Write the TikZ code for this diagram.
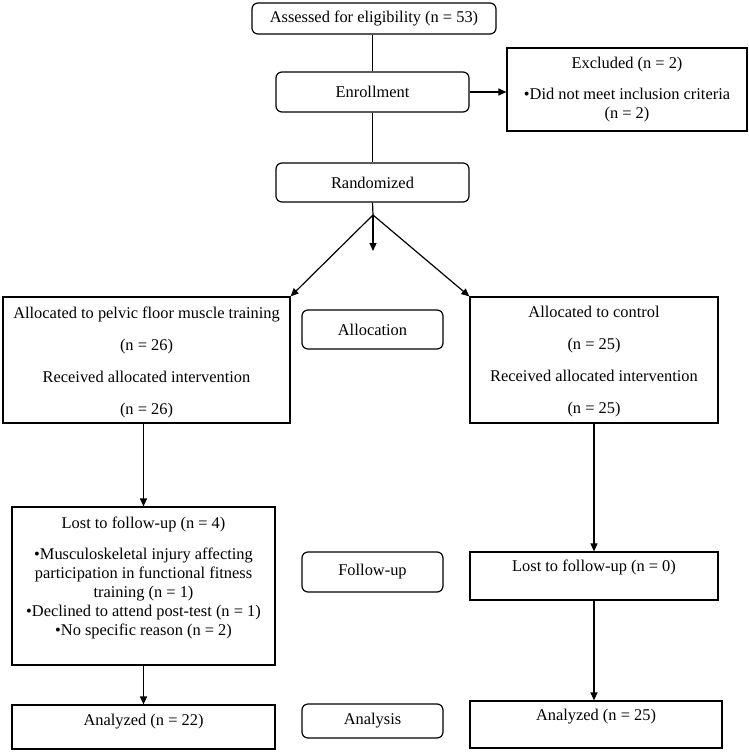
\documentclass[tikz,border=0pt]{standalone}
\usepackage{fontspec}
\setmainfont{Liberation Serif}
\usetikzlibrary{arrows.meta,calc}
\begin{document}
\begin{tikzpicture}[x=1pt,y=-1pt,
  rbox/.style={draw, rounded corners=6pt, line width=1.2pt, inner sep=0pt},
  sbox/.style={draw, line width=1.2pt, inner sep=0pt},
  txt/.style={font=\fontsize{16.4}{19}\selectfont, align=center, inner sep=0pt},
  arr/.style={line width=1.2pt, -{Triangle[length=8pt,width=7pt]}},
  ln/.style={line width=1.2pt}]
\useasboundingbox (0,0) rectangle (749,752);
% top
\node[rbox, txt, minimum width=244pt, minimum height=31pt] (assess) at (374,18.5) {Assessed for eligibility (n = 53)};
\node[rbox, txt, minimum width=193pt, minimum height=40pt] (enroll) at (372.5,92) {Enrollment};
\node[sbox, txt, minimum width=240pt, minimum height=83pt] (excl) at (627,89.5) {Excluded (n = 2)\\[12pt]•Did not meet inclusion criteria\\(n = 2)};
\node[rbox, txt, minimum width=193pt, minimum height=39pt] (rand) at (372.5,182.5) {Randomized};
% allocation
\node[sbox, minimum width=287pt, minimum height=126pt] (allocL) at (146.5,360) {};
\node[txt, font=\fontsize{16.4}{32}\selectfont] (allocLtxt) at (146.5,362) {Allocated to pelvic floor muscle training\\(n = 26)\\Received allocated intervention\\(n = 26)};
\node[rbox, txt, minimum width=141pt, minimum height=39pt] (alloc) at (372.5,329.5) {Allocation};
\node[sbox, minimum width=248pt, minimum height=126pt] (allocR) at (594,360) {};
\node[txt, font=\fontsize{16.4}{32}\selectfont] (allocRtxt) at (594,362) {Allocated to control\\(n = 25)\\Received allocated intervention\\(n = 25)};
% follow-up
\node[sbox, minimum width=263pt, minimum height=158pt] (lostL) at (143.5,586) {};
\node[txt, anchor=north] (lostLtxt) at (143.5,517) {Lost to follow-up (n = 4)\\[12pt]•Musculoskeletal injury affecting\\participation in functional fitness\\training (n = 1)\\•Declined to attend post-test (n = 1)\\•No specific reason (n = 2)};
\node[rbox, txt, minimum width=141pt, minimum height=40pt] (follow) at (372.5,572) {Follow-up};
\node[sbox, minimum width=248pt, minimum height=48pt] (lostR) at (594,576) {};
\node[txt] (lostRtxt) at (594,567) {Lost to follow-up (n = 0)};
% analysis
\node[sbox, minimum width=263pt, minimum height=44pt] (anL) at (143.5,727) {};
\node[txt] (anLtxt) at (143.5,722) {Analyzed (n = 22)};
\node[rbox, txt, minimum width=141pt, minimum height=34pt] (anal) at (372.5,721) {Analysis};
\node[sbox, minimum width=252pt, minimum height=47pt] (anR) at (596,724.5) {};
\node[txt] (anRtxt) at (596,717) {Analyzed (n = 25)};
% connectors
\coordinate (split) at (373,215);
\coordinate (mid) at (373,251);
\draw[ln] (assess.south -| enroll.north) -- (enroll.north);
\draw[arr] (enroll.east) -- (excl.west |- enroll.east);
\draw[ln] (enroll.south) -- (rand.north);
\draw[ln] (rand.south) -- (split);
\draw[arr] (split) -- (allocL.north east);
\draw[arr] (split) -- (allocR.north west);
\draw[arr] (split) -- (mid);
\draw[arr] (allocL.south -| lostL.north) -- (lostL.north);
\draw[arr] (lostL.south) -- (lostL.south |- anL.north);
\draw[arr] (allocR.south) -- (lostR.north);
\draw[arr] (lostR.south) -- (lostR.south |- anR.north);
\end{tikzpicture}
\end{document}
